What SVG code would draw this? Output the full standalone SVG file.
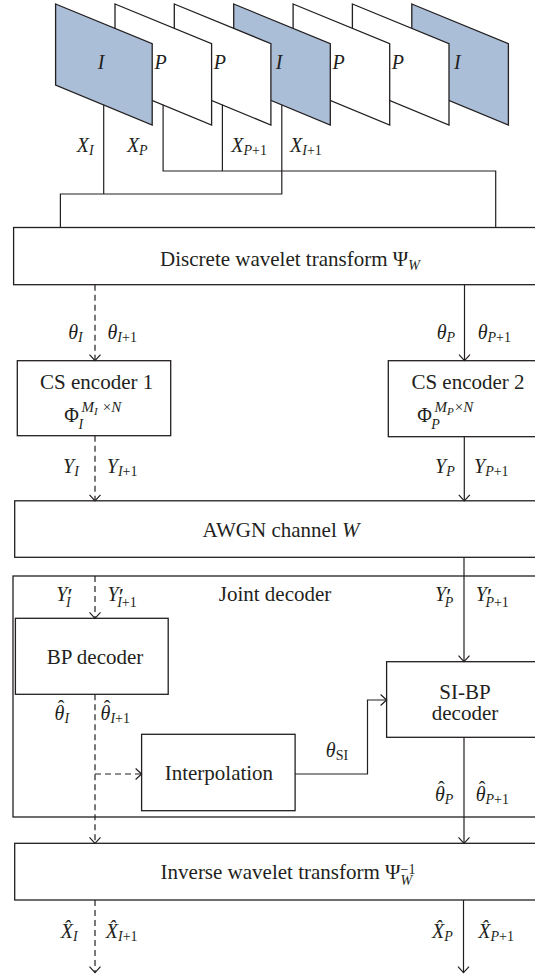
<svg xmlns="http://www.w3.org/2000/svg" width="535" height="976" viewBox="0 0 535 976" font-family="Liberation Serif, Times New Roman, serif">
<defs>
<style>
.box{fill:#fff;stroke:#231f20;stroke-width:1.3}
.fr{stroke:#231f20;stroke-width:1.3;stroke-linejoin:miter}
.fi{fill:#abbed7}
.fp{fill:#fff}
.ln{fill:none;stroke:#231f20;stroke-width:1.2}
.d{stroke-dasharray:6 4}
text{font-family:"Liberation Serif","Times New Roman",serif;fill:#231f20}
.t{font-size:20px}
.b{font-size:21px}
.m{font-style:italic}
.s{font-size:14px}
.sp{font-size:15px}
.ss{font-size:11px}
.pr{font-size:24px;font-style:normal}
.u{font-style:normal}
.c{text-anchor:middle}
.h{font-size:20px;font-style:normal;text-anchor:middle}
</style>
<marker id="ah" markerUnits="userSpaceOnUse" viewBox="-8 -7 10 14" markerWidth="10" markerHeight="14" refX="0" refY="0" orient="auto" overflow="visible"><path d="M-6,-5.5 L0,0 L-6,5.5" fill="none" stroke="#231f20" stroke-width="1.2" stroke-dasharray="none"/></marker>
</defs>
<rect width="535" height="976" fill="#fff"/>

<g id="frames">
<g id="frame7"><polygon class="fr fi" points="411.8,4 508.4,43.7 508.4,125 411.8,85"/><text class="t m c" x="457.3" y="69">I</text></g>
<g id="frame6"><polygon class="fr fp" points="352.4,4 449,43.7 449,125 352.4,85"/><text class="t m c" x="397.9" y="69">P</text></g>
<g id="frame5"><polygon class="fr fp" points="293.1,4 389.7,43.7 389.7,125 293.1,85"/><text class="t m c" x="338.6" y="69">P</text></g>
<g id="frame4"><polygon class="fr fi" points="233.7,4 330.3,43.7 330.3,125 233.7,85"/><text class="t m c" x="279.2" y="69">I</text></g>
<g id="frame3"><polygon class="fr fp" points="174.3,4 270.9,43.7 270.9,125 174.3,85"/><text class="t m c" x="219.8" y="69">P</text></g>
<g id="frame2"><polygon class="fr fp" points="115,4 211.6,43.7 211.6,125 115,85"/><text class="t m c" x="160.5" y="69">P</text></g>
<g id="frame1"><polygon class="fr fi" points="55.6,4 152.2,43.7 152.2,125 55.6,85"/><text class="t m c" x="101.1" y="69">I</text></g>
</g>

<g id="dwt"><rect class="box" x="13.6" y="227.5" width="530" height="57.2"/><text class="b c" x="290" y="266">Discrete wavelet transform Ψ<tspan class="s m" dy="4">W</tspan></text></g>

<g id="cs-encoder-1"><rect class="box" x="17.3" y="360.7" width="153.4" height="75"/><text class="b c" x="96.7" y="389.3">CS encoder 1</text>
<text class="t" x="64.3" y="421.7">Φ<tspan class="s m" x="78.5" y="429">I</tspan><tspan class="sp m" x="81.5" y="411.7">M</tspan><tspan class="ss m" dy="3">I</tspan><tspan class="sp u" dx="5" dy="-3">×</tspan><tspan class="sp m">N</tspan></text></g>

<g id="cs-encoder-2"><rect class="box" x="388.3" y="360.7" width="170" height="76"/><text class="b c" x="468" y="389.3">CS encoder 2</text>
<text class="t" x="417.3" y="421.7">Φ<tspan class="s m" x="431.3" y="429">P</tspan><tspan class="sp m" x="434.5" y="411.7">M</tspan><tspan class="ss m" dy="3">P</tspan><tspan class="sp u" dx="1" dy="-3">×</tspan><tspan class="sp m">N</tspan></text></g>

<g id="awgn"><rect class="box" x="14.7" y="500.8" width="530" height="56.5"/><text class="b c" x="281" y="536.7">AWGN channel <tspan class="m">W</tspan></text></g>

<g id="joint-decoder"><rect class="box" x="13" y="576" width="530" height="241" fill="none"/><text class="b c" x="275" y="600.7">Joint decoder</text></g>

<g id="bp-decoder"><rect class="box" x="15.4" y="618.3" width="152.8" height="76"/><text class="b c" x="95" y="664.3">BP decoder</text></g>

<g id="si-bp-decoder"><rect class="box" x="386.6" y="661.7" width="180" height="75.6"/><text class="b c" x="465" y="699.3">SI-BP</text><text class="b c" x="465" y="720">decoder</text></g>

<g id="interpolation"><rect class="box" x="141.6" y="734.3" width="153.5" height="76.4"/><text class="b c" x="218.9" y="780">Interpolation</text></g>

<g id="iwt"><rect class="box" x="14.7" y="843.3" width="530" height="56.7"/><text class="b c" x="288" y="879.3">Inverse wavelet transform Ψ<tspan class="s m" dy="6">W</tspan><tspan class="s" dx="-11.7" dy="-11">−1</tspan></text></g>

<g id="connectors">
<path class="ln" d="M60.4,227.5 V194 H281.8 V104.8 M103.7,104.8 V194"/>
<path class="ln" d="M163.1,104.8 V171 H495.7 V227.5 M222.4,104.8 V171"/>
<path class="ln d" d="M95,284.7 V360.7" marker-end="url(#ah)"/>
<path class="ln" d="M464.5,284.7 V360.7" marker-end="url(#ah)"/>
<path class="ln d" d="M95,435.7 V500.8" marker-end="url(#ah)"/>
<path class="ln" d="M464.3,436.7 V500.8" marker-end="url(#ah)"/>
<path class="ln d" d="M95,576 V618.3" marker-end="url(#ah)"/>
<path class="ln" d="M464,557.3 V661.7" marker-end="url(#ah)"/>
<path class="ln d" d="M95,694.3 V843.3" marker-end="url(#ah)"/>
<path class="ln d" d="M95,774 H141.6" marker-end="url(#ah)"/>
<path class="ln" d="M295.1,774 H367.5 V700 H386.6" marker-end="url(#ah)"/>
<path class="ln" d="M464,737.3 V843.3" marker-end="url(#ah)"/>
<path class="ln d" d="M95,900 V972.7" marker-end="url(#ah)"/>
<path class="ln" d="M463.5,900 V972.7" marker-end="url(#ah)"/>
</g>

<g id="connector-labels">
<text class="t m" x="76.8" y="152.3">X<tspan class="s" dy="3">I</tspan></text>
<text class="t m" x="126.9" y="152.3">X<tspan class="s" dy="3">P</tspan></text>
<text class="t m" x="231.3" y="152.3">X<tspan class="s" dy="3">P<tspan class="u">+1</tspan></tspan></text>
<text class="t m" x="290" y="152.3">X<tspan class="s" dy="3">I<tspan class="u">+1</tspan></tspan></text>

<text class="t m" x="68.2" y="339.3">θ<tspan class="s" dy="3">I</tspan></text>
<text class="t m" x="107.5" y="339.3">θ<tspan class="s" dy="3">I<tspan class="u">+1</tspan></tspan></text>
<text class="t m" x="436.7" y="339.3">θ<tspan class="s" dy="3">P</tspan></text>
<text class="t m" x="477.7" y="339.3">θ<tspan class="s" dy="3">P<tspan class="u">+1</tspan></tspan></text>

<text class="t m" x="63.1" y="473.3">Y<tspan class="s" dy="3">I</tspan></text>
<text class="t m" x="106.8" y="473.3">Y<tspan class="s" dy="3">I<tspan class="u">+1</tspan></tspan></text>
<text class="t m" x="435" y="473.3">Y<tspan class="s" dy="3">P</tspan></text>
<text class="t m" x="474" y="473.3">Y<tspan class="s" dy="3">P<tspan class="u">+1</tspan></tspan></text>

<text class="t m" x="56.3" y="600.7">Y<tspan class="pr" x="67.5" y="603.5">′</tspan><tspan class="s" x="66" y="607">I</tspan></text>
<text class="t m" x="107.5" y="600.7">Y<tspan class="pr" x="118.7" y="603.5">′</tspan><tspan class="s" x="117.2" y="607">I<tspan class="u">+1</tspan></tspan></text>
<text class="t m" x="435" y="600.7">Y<tspan class="pr" x="446.2" y="603.5">′</tspan><tspan class="s" x="444.7" y="607">P</tspan></text>
<text class="t m" x="475.7" y="600.7">Y<tspan class="pr" x="486.9" y="603.5">′</tspan><tspan class="s" x="485.4" y="607">P<tspan class="u">+1</tspan></tspan></text>

<text class="t m" x="54.6" y="720">θ<tspan class="s" dy="3">I</tspan><tspan class="h" x="61" y="714.5">ˆ</tspan></text>
<text class="t m" x="100.6" y="720">θ<tspan class="s" dy="3">I<tspan class="u">+1</tspan></tspan><tspan class="h" x="107" y="714.5">ˆ</tspan></text>

<text class="t m" x="325.8" y="756.7">θ<tspan class="s u" dy="3">SI</tspan></text>

<text class="t m" x="435" y="801">θ<tspan class="s" dy="3">P</tspan><tspan class="h" x="441.4" y="795.5">ˆ</tspan></text>
<text class="t m" x="475.7" y="801">θ<tspan class="s" dy="3">P<tspan class="u">+1</tspan></tspan><tspan class="h" x="482.1" y="795.5">ˆ</tspan></text>

<text class="t m" x="60.7" y="938.3">X̂<tspan class="s" dy="3">I</tspan></text>
<text class="t m" x="105.8" y="938.3">X̂<tspan class="s" dy="3">I<tspan class="u">+1</tspan></tspan></text>
<text class="t m" x="432" y="938.3">X̂<tspan class="s" dy="3">P</tspan></text>
<text class="t m" x="478.3" y="938.3">X̂<tspan class="s" dy="3">P<tspan class="u">+1</tspan></tspan></text>
</g>
</svg>
